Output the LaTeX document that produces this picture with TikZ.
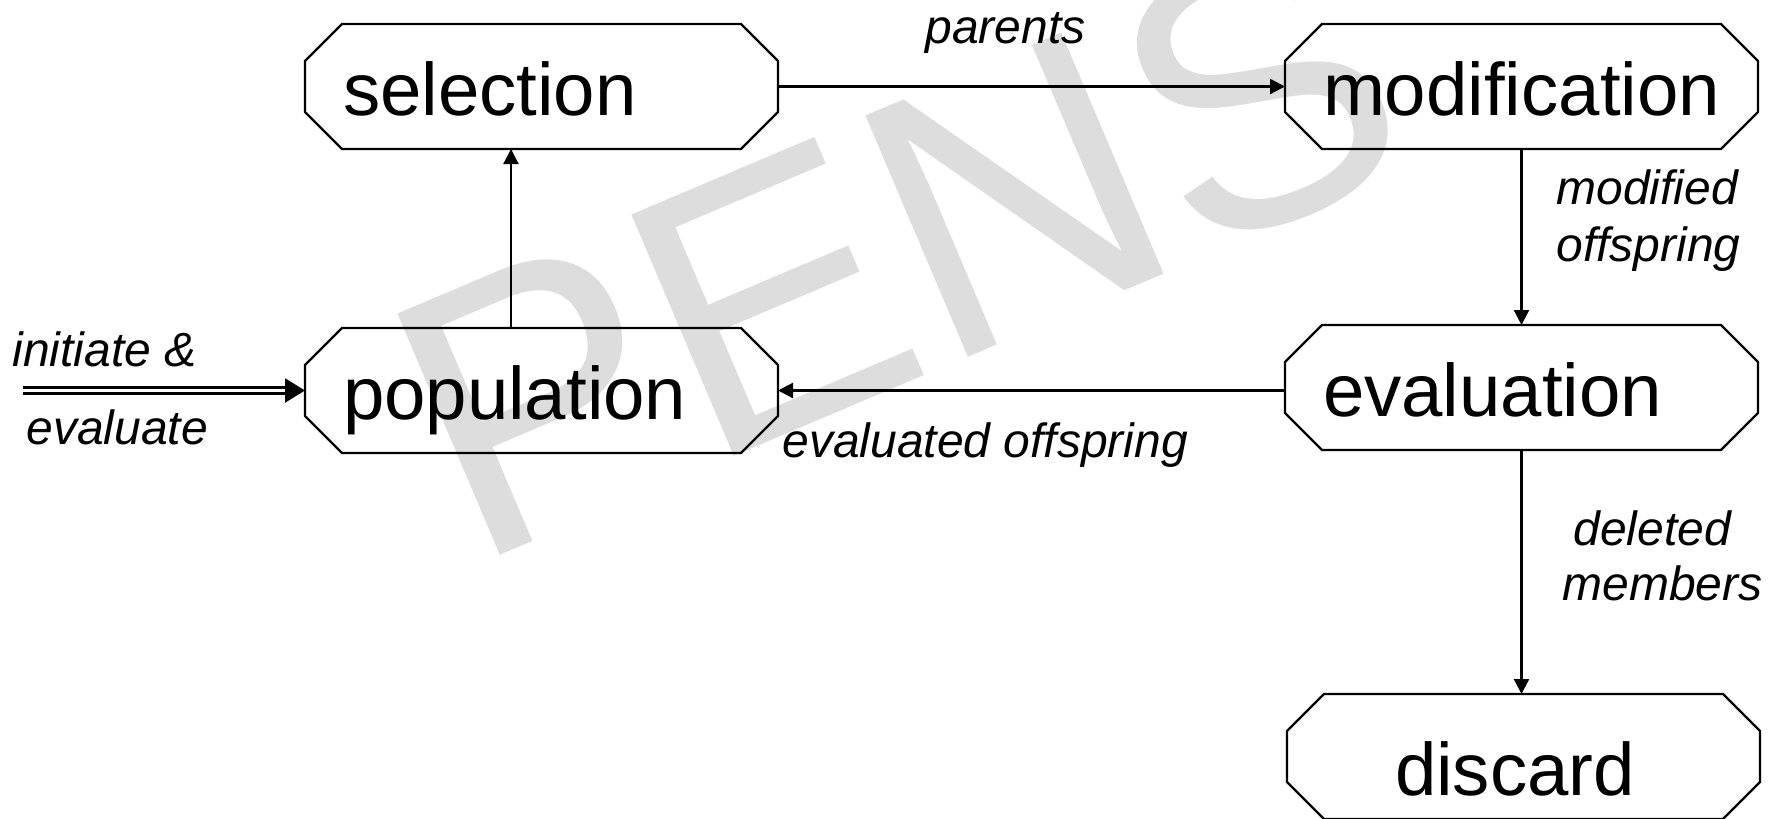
\documentclass[tikz,border=0pt]{standalone}
\usepackage{fontspec}
\setmainfont{Liberation Sans}
\usetikzlibrary{arrows.meta,calc}
\definecolor{wmgray}{RGB}{221,221,221}
\newcommand{\octo}[1]{%
  \draw[octline] ([xshift=18.5pt]#1.north west) -- ([xshift=-18.5pt]#1.north east)
    -- ([yshift=-18.5pt]#1.north east) -- ([yshift=18.5pt]#1.south east)
    -- ([xshift=-18.5pt]#1.south east) -- ([xshift=18.5pt]#1.south west)
    -- ([yshift=18.5pt]#1.south west) -- ([yshift=-18.5pt]#1.north west) -- cycle;}
\begin{document}
\begin{tikzpicture}[x=0.5pt,y=-0.5pt,
  box/.style={rectangle, minimum width=236.5pt, minimum height=62.5pt,
    inner xsep=18.5pt, inner ysep=0pt, outer sep=0pt, text width=199.5pt, align=left,
    text height=28.5pt, text depth=0pt, font=\fontsize{37.2}{40}\selectfont},
  octline/.style={line width=1.2pt, line join=miter},
  arr/.style={line width=1.1pt, -{Triangle[width=7.5pt,length=7.5pt]}},
  dblarr/.style={line width=1.2pt, double, double distance=1.8pt, -{Triangle[width=12pt,length=10pt]}},
  lbl/.style={anchor=base west, inner sep=0pt, font=\itshape\fontsize{24}{28}\selectfont},
  wm/.style={anchor=base west, inner sep=0pt, text=wmgray, rotate=23, font=\fontsize{190.5}{200}\selectfont}]
\useasboundingbox (0,0) rectangle (1773,819);
\clip (0,0) rectangle (1773,819);
% watermark
\node[wm] (wmark) at (471,568) {PENS};
% boxes
\node[box] (selection) at (541.5,86.5) {\hspace*{0.5pt}selection};
\node[box] (modification) at (1521.5,86.5) {\hspace*{0.5pt}modification};
\node[box] (population) at (541.5,390.5) {\hspace*{0.5pt}population};
\node[box] (evaluation) at (1521.5,387.5) {\hspace*{0.5pt}evaluation};
\node[box, text height=38.5pt] (discard) at (1523.5,756.5) {\hspace*{35.5pt}discard};
\octo{selection}
\octo{modification}
\octo{population}
\octo{evaluation}
\octo{discard}
% connectors
\coordinate (init) at (23,390.5);
\draw[arr] (selection.east) -- (modification.west);
\draw[arr] ([xshift=-15.25pt]population.north) -- ([xshift=-15.25pt]selection.south);
\draw[arr] (modification.south) -- (evaluation.north);
\draw[arr] (evaluation.west |- population.east) -- (population.east);
\draw[arr] (evaluation.south) -- (evaluation.south |- discard.north);
\draw[dblarr] (init) -- (population.west);
% labels
\node[lbl] (lparents) at (925,43) {parents};
\node[lbl] (lmod1) at (1556,204) {modified};
\node[lbl] (lmod2) at (1556,261) {offspring};
\node[lbl] (ldel1) at (1573,545) {deleted};
\node[lbl] (ldel2) at (1562,600) {members};
\node[lbl] (linit1) at (12,366) {initiate \&};
\node[lbl] (linit2) at (26,444) {evaluate};
\node[lbl] (levo) at (782,457) {evaluated offspring};
\end{tikzpicture}
\end{document}
